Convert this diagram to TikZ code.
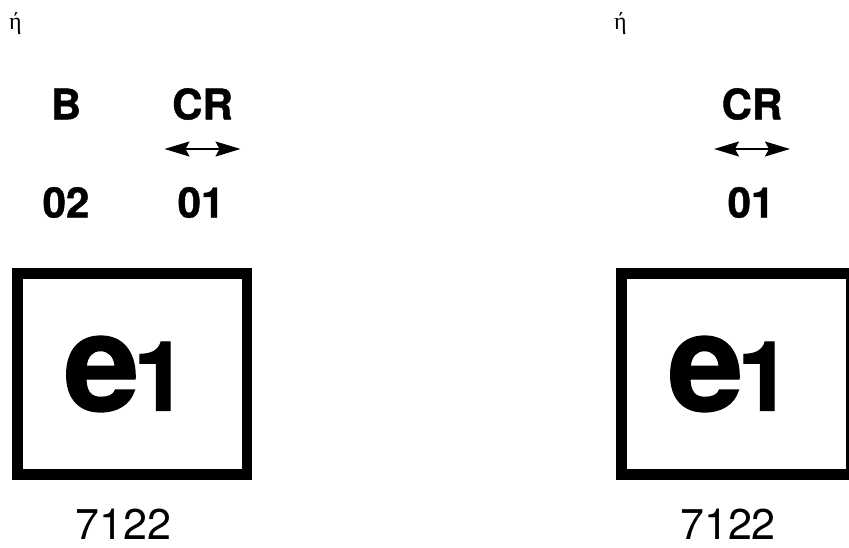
\documentclass[tikz,border=0pt]{standalone}
\usepackage{fontspec}
\setmainfont[BoldFont={TeX Gyre Heros Bold},BoldFeatures={FakeBold=1}]{TeX Gyre Heros}
\newfontfamily\etafont{Liberation Serif}
\usetikzlibrary{arrows.meta}
\usetikzlibrary{positioning}
\tikzset{
  heading/.style={font=\bfseries\fontsize{42}{42}\selectfont,inner sep=0pt},
  frame/.style={draw,line width=10.5pt,minimum width=229.5pt,minimum height=201pt,inner sep=0pt},
  caption/.style={font=\fontsize{43}{43}\selectfont,inner sep=0pt},
  accent/.style={font=\etafont\fontsize{24}{24}\selectfont,inner sep=0pt},
  swap/.style={{Stealth[length=25pt,width=15pt,inset=4pt]}-{Stealth[length=25pt,width=15pt,inset=4pt]},line width=1.5pt}
}
\newcommand{\bige}[1]{{\bfseries\fontsize{136}{136}\selectfont e\kern-6pt\fontsize{97}{97}\selectfont #1}}
\begin{document}
\begin{tikzpicture}[x=1pt,y=1pt]
  \useasboundingbox (0,0) rectangle (849,547);
  % left side
  \node[accent] (etaL) at (15.5,523.5) {ή};
  \node[heading] (b) at (66,443) {B};
  \node[heading] (crL) at (202.5,443) {CR};
  \node[heading] (n02) at (66,344.5) {02};
  \node[heading] (n01L) at (201,344.5) {01};
  \coordinate (aL) at (164.5,398);
  \coordinate (bL) at (240.5,398);
  \draw[swap] (aL) -- (bL);
  \node[frame] (boxL) at (132,173) {};
  \node[inner sep=0pt] (e1L) at ([xshift=-6.5pt]boxL.center) {\bige{1}};
  \node[caption] (capL) at (123.5,22.5) {7122};
  % right side
  \node[accent] (etaR) at (620.5,523.5) {ή};
  \node[heading] (crR) at (752,443) {CR};
  \node[heading] (n01R) at (751,344.5) {01};
  \coordinate (aR) at (714,398);
  \coordinate (bR) at (790,398);
  \draw[swap] (aR) -- (bR);
  \node[frame] (boxR) at (736,173) {};
  \node[inner sep=0pt] (e1R) at ([xshift=-6.5pt]boxR.center) {\bige{1}};
  \node[caption] (capR) at (728,22.5) {7122};
\end{tikzpicture}
\end{document}
